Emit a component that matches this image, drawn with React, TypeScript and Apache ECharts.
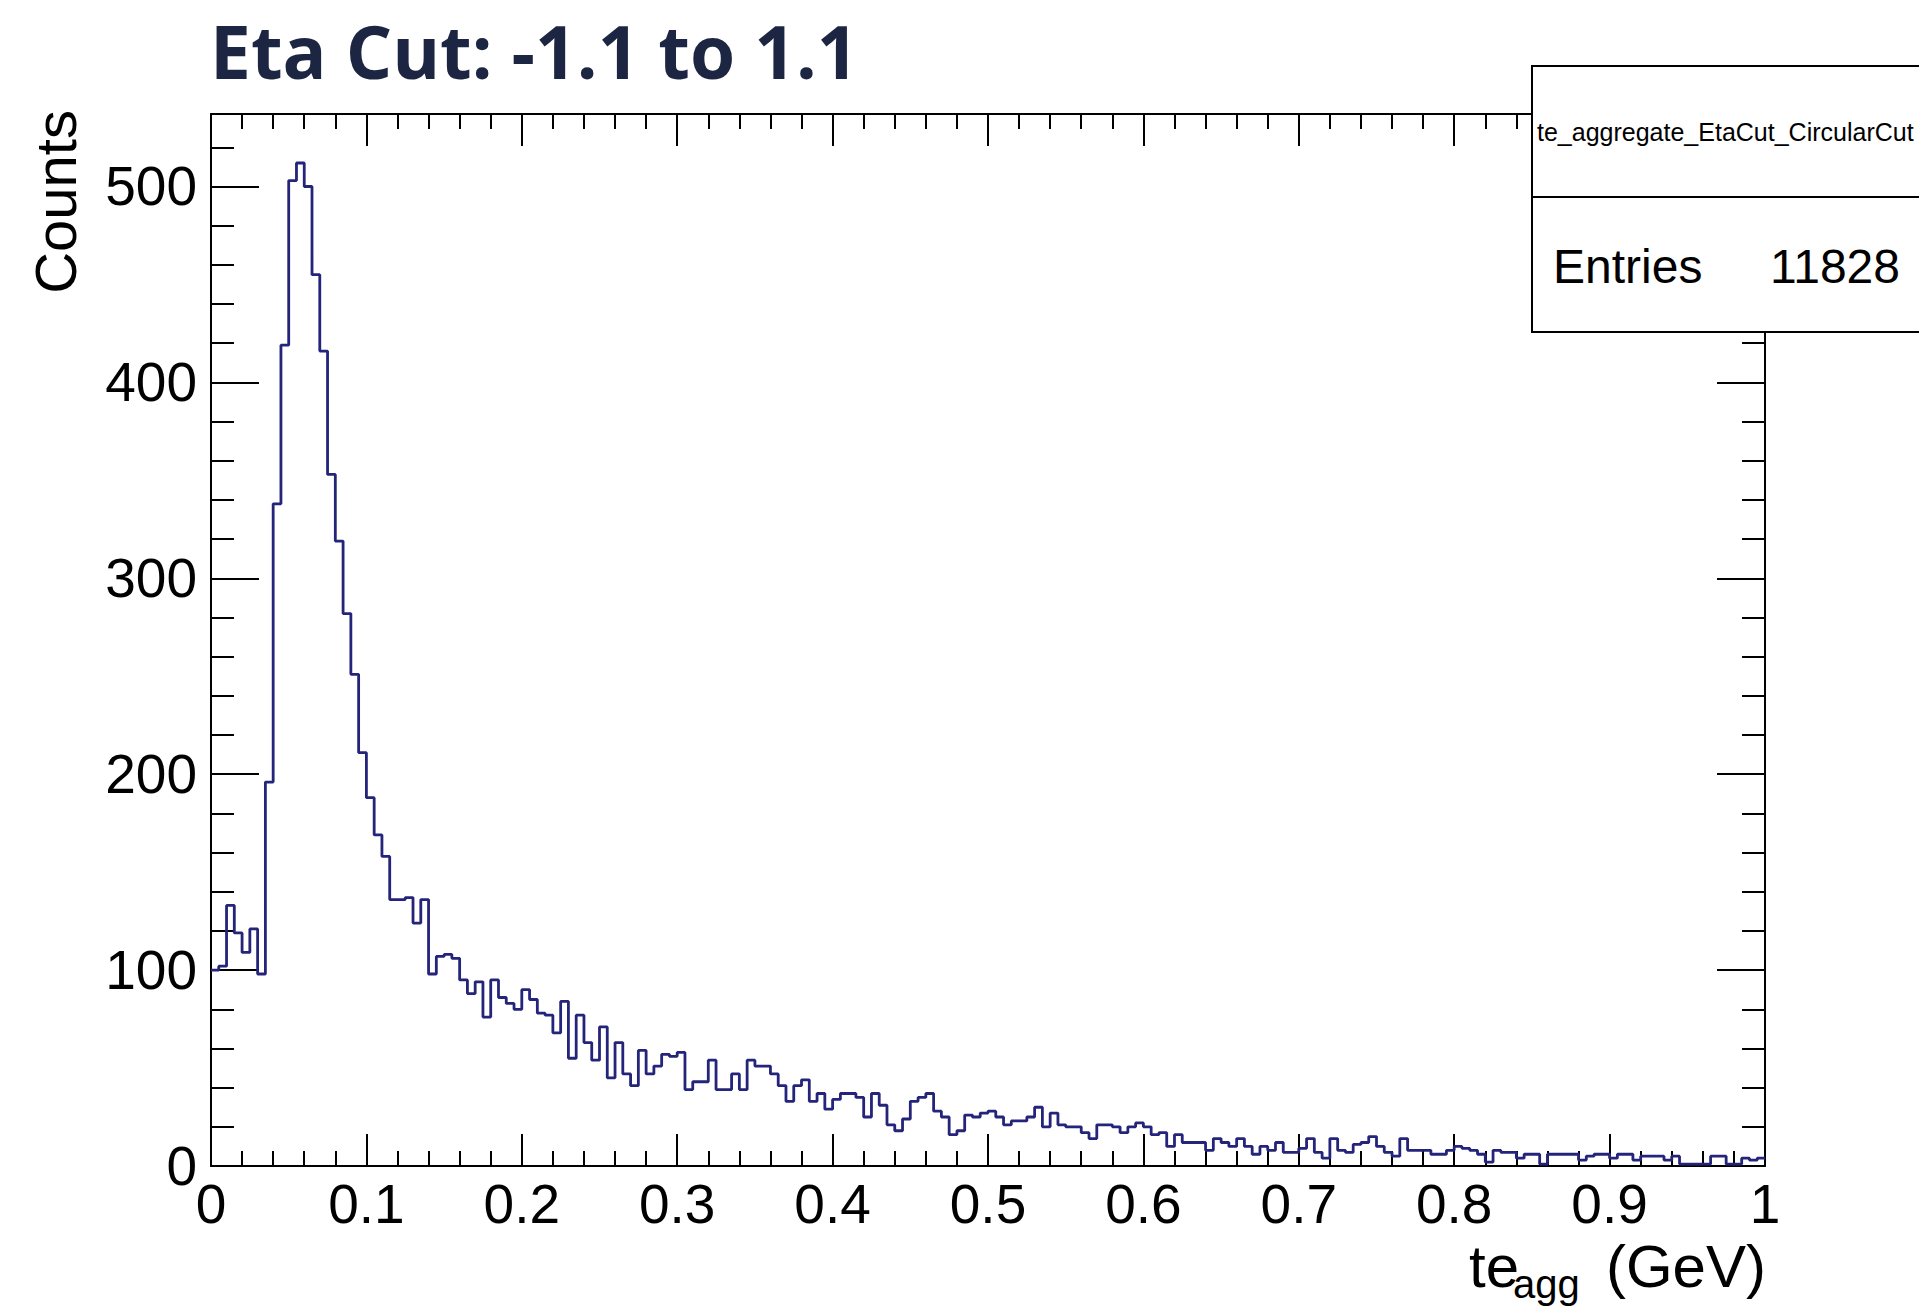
import React, { useEffect, useRef } from "react";
import * as echarts from "echarts";

// ---- data ----
const TITLE = "Eta Cut: -1.1 to 1.1";
const Y_TITLE = "Counts";
const HIST_NAME = "te_aggregate_EtaCut_CircularCut";
const ENTRIES_LABEL = "Entries";
const ENTRIES_VALUE = "11828";
const X_RANGE = [0, 1];
const Y_MAX = 537;
// 200 bins of width 0.005 GeV, counts
const BIN_COUNTS = [
  100, 102, 133, 119, 109, 121, 98, 196, 338, 419,
  503, 512, 500, 455, 416, 353, 319, 282, 251, 211,
  188, 169, 158, 136, 136, 137, 124, 136, 98, 107,
  108, 106, 95, 88, 94, 76, 95, 86, 83, 80,
  90, 85, 78, 77, 68, 84, 55, 77, 63, 54,
  71, 45, 63, 47, 41, 59, 47, 51, 57, 56,
  58, 39, 43, 43, 54, 39, 39, 47, 39, 54,
  51, 51, 47, 41, 33, 41, 44, 33, 37, 29,
  34, 37, 37, 35, 25, 37, 31, 21, 18, 24,
  33, 35, 37, 28, 25, 16, 18, 26, 25, 27,
  28, 25, 21, 23, 23, 25, 30, 20, 27, 21,
  20, 20, 17, 14, 21, 21, 20, 17, 20, 22,
  20, 16, 17, 10, 16, 12, 12, 12, 8, 14,
  12, 10, 14, 10, 6, 10, 8, 12, 7, 7,
  9, 14, 7, 4, 14, 8, 7, 11, 12, 15,
  10, 7, 5, 14, 8, 8, 8, 6, 6, 8,
  10, 9, 8, 6, 2, 8, 7, 7, 4, 6,
  6, 1, 6, 6, 6, 6, 3, 5, 6, 6,
  4, 6, 6, 3, 5, 5, 5, 3, 5, 1,
  1, 1, 1, 5, 5, 1, 1, 4, 3, 4,
];

const FONT = "'Liberation Sans', Arial, Helvetica, sans-serif";
const LINE_COLOR = "#24247a";

export default function App() {
  const ref = useRef<HTMLDivElement>(null);

  useEffect(() => {
    if (!ref.current) return;
    const chart = echarts.init(ref.current, null, { renderer: "svg" });
    const nBins = BIN_COUNTS.length;
    const w = (X_RANGE[1] - X_RANGE[0]) / nBins;
    const data: number[][] = BIN_COUNTS.map((v, i) => [X_RANGE[0] + i * w, v]);
    data.push([X_RANGE[1], BIN_COUNTS[nBins - 1]]);

    const tickStyle = { color: "#000", width: 2 };
    const baseX = {
      type: "value",
      min: X_RANGE[0],
      max: X_RANGE[1],
      interval: 0.1,
      splitLine: { show: false },
      axisLine: { show: true, onZero: false, lineStyle: tickStyle },
      axisTick: { show: true, inside: true, length: 32, lineStyle: tickStyle },
      minorTick: { show: true, splitNumber: 5, length: 15, lineStyle: tickStyle },
    };
    const baseY = {
      type: "value",
      min: 0,
      max: Y_MAX,
      splitLine: { show: false },
    };
    const Z = 100;

    chart.setOption({
      animation: false,
      backgroundColor: "#ffffff",
      grid: { left: 211, right: 154, top: 114, bottom: 140 },
      xAxis: [
        {
          ...baseX,
          position: "bottom",
          axisLabel: {
            show: true,
            fontSize: 55,
            fontFamily: FONT,
            color: "#000",
            margin: 10,
          },
        },
        { ...baseX, position: "top", axisLabel: { show: false } },
      ],
      yAxis: [
        {
          ...baseY,
          position: "left",
          interval: 100,
          axisLine: { show: true, onZero: false, lineStyle: tickStyle },
          axisTick: { show: true, inside: true, length: 48, lineStyle: tickStyle },
          axisLabel: {
            show: true,
            fontSize: 55,
            fontFamily: FONT,
            color: "#000",
            margin: 14,
            showMaxLabel: false,
          },
        },
        {
          ...baseY,
          position: "left",
          interval: 20,
          axisLine: { show: false, onZero: false },
          axisTick: { show: true, inside: true, length: 23, lineStyle: tickStyle },
          axisLabel: { show: false },
        },
        {
          ...baseY,
          position: "right",
          interval: 100,
          axisLine: { show: true, onZero: false, lineStyle: tickStyle },
          axisTick: { show: true, inside: true, length: 48, lineStyle: tickStyle },
          axisLabel: { show: false },
        },
        {
          ...baseY,
          position: "right",
          interval: 20,
          axisLine: { show: false, onZero: false },
          axisTick: { show: true, inside: true, length: 23, lineStyle: tickStyle },
          axisLabel: { show: false },
        },
      ],
      series: [
        {
          type: "line",
          step: "end",
          xAxisIndex: 0,
          yAxisIndex: 0,
          data,
          symbol: "none",
          lineStyle: { color: LINE_COLOR, width: 2.8 },
          z: 3,
        },
      ],
      graphic: [
        {
          type: "text",
          x: 210,
          y: 50,
          style: {
            text: TITLE,
            fill: "#1c2541",
            fontSize: 73,
            lineHeight: 80,
            fontWeight: "bold",
            fontFamily: "'Open Sans', sans-serif",
            align: "left",
            verticalAlign: "middle",
          },
        },
        {
          type: "text",
          x: 55,
          y: 110,
          rotation: Math.PI / 2,
          style: {
            text: Y_TITLE,
            fill: "#000",
            fontSize: 58,
            fontFamily: FONT,
            align: "right",
            verticalAlign: "middle",
          },
        },
        {
          type: "text",
          x: 1469,
          y: 1266,
          style: { text: "te", fill: "#000", fontSize: 60, fontFamily: FONT, align: "left", verticalAlign: "middle" },
        },
        {
          type: "text",
          x: 1513,
          y: 1284,
          style: { text: "agg", fill: "#000", fontSize: 40, fontFamily: FONT, align: "left", verticalAlign: "middle" },
        },
        {
          type: "text",
          x: 1766,
          y: 1266,
          style: { text: "(GeV)", fill: "#000", fontSize: 60, fontFamily: FONT, align: "right", verticalAlign: "middle" },
        },
        {
          type: "rect",
          z: Z,
          shape: { x: 1532, y: 66, width: 500, height: 266 },
          style: { fill: "#fff", stroke: "#000", lineWidth: 2 },
        },
        {
          type: "line",
          z: Z + 1,
          shape: { x1: 1532, y1: 197, x2: 1919, y2: 197 },
          style: { stroke: "#000", lineWidth: 2 },
        },
        {
          type: "text",
          z: Z + 1,
          x: 1537,
          y: 132,
          style: { text: HIST_NAME, fill: "#000", fontSize: 25, fontFamily: FONT, align: "left", verticalAlign: "middle" },
        },
        {
          type: "text",
          z: Z + 1,
          x: 1553,
          y: 266,
          style: { text: ENTRIES_LABEL, fill: "#000", fontSize: 48, fontFamily: FONT, align: "left", verticalAlign: "middle" },
        },
        {
          type: "text",
          z: Z + 1,
          x: 1900,
          y: 266,
          style: { text: ENTRIES_VALUE, fill: "#000", fontSize: 48, fontFamily: FONT, align: "right", verticalAlign: "middle" },
        },
      ],
    });
    return () => chart.dispose();
  }, []);

  return (
    <div
      ref={ref}
      style={{ position: "absolute", left: 0, top: 0, width: 1919, height: 1306, background: "#fff" }}
    />
  );
}
